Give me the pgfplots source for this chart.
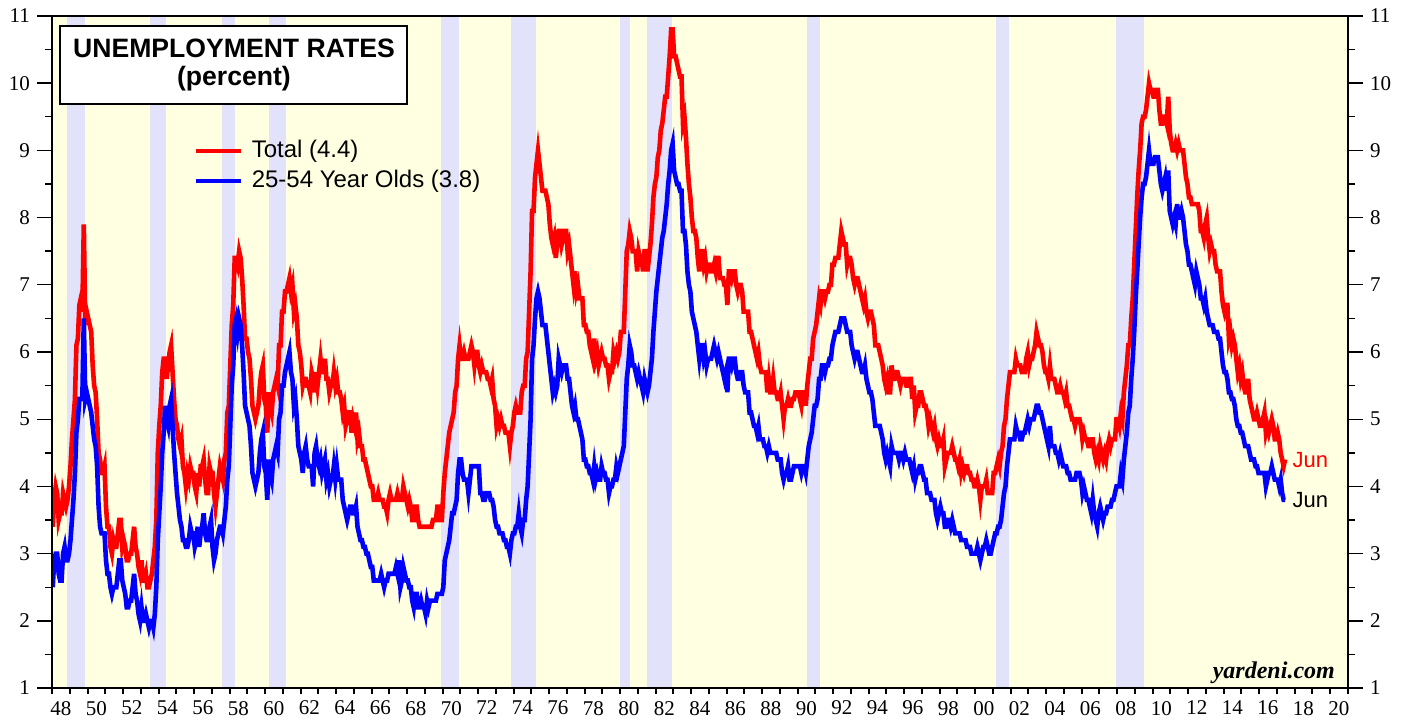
\documentclass[border=0pt]{standalone}
\usepackage{fontspec}
\setmainfont{Liberation Serif}
\newfontfamily\arial{Liberation Sans}
\usepackage{pgfplots}
\usepackage{pgfplotstable}
\pgfplotsset{compat=1.18}
\definecolor{bgyel}{RGB}{255,255,226}
\definecolor{recess}{RGB}{226,226,250}

\pgfplotstableread[row sep=\\]{
r b \\
3.4 2.5 \\ 3.8 2.9 \\ 4.0 3.0 \\ 3.9 3.0 \\ 3.5 2.7 \\ 3.6 2.6 \\ 3.6 2.6 \\ 3.9 3.0 \\ 3.8 3.1 \\ 3.7 2.9 \\ 3.8 2.9 \\ 4.0 3.0 \\
4.3 3.2 \\ 4.7 3.5 \\ 5.0 3.8 \\ 5.3 4.2 \\ 6.1 4.8 \\ 6.2 5.0 \\ 6.7 5.3 \\ 6.8 5.3 \\ 6.6 5.3 \\ 7.9 6.5 \\ 6.4 5.3 \\ 6.6 5.4 \\
6.5 5.3 \\ 6.4 5.2 \\ 6.3 5.1 \\ 5.8 4.9 \\ 5.5 4.7 \\ 5.4 4.6 \\ 5.0 4.3 \\ 4.5 3.7 \\ 4.4 3.4 \\ 4.2 3.3 \\ 4.2 3.3 \\ 4.3 3.3 \\
3.7 2.9 \\ 3.4 2.7 \\ 3.4 2.7 \\ 3.1 2.5 \\ 3.0 2.4 \\ 3.2 2.5 \\ 3.1 2.5 \\ 3.1 2.5 \\ 3.3 2.7 \\ 3.5 2.9 \\ 3.5 2.9 \\ 3.1 2.6 \\
3.2 2.5 \\ 3.1 2.4 \\ 2.9 2.2 \\ 2.9 2.2 \\ 3.0 2.3 \\ 3.0 2.3 \\ 3.2 2.5 \\ 3.4 2.7 \\ 3.1 2.4 \\ 3.0 2.3 \\ 2.8 2.1 \\ 2.7 2.0 \\
2.9 2.2 \\ 2.6 2.0 \\ 2.6 2.0 \\ 2.7 2.1 \\ 2.5 2.0 \\ 2.5 1.9 \\ 2.6 2.0 \\ 2.7 2.0 \\ 2.9 1.9 \\ 3.1 2.1 \\ 3.5 2.5 \\ 4.5 3.2 \\
4.9 3.6 \\ 5.2 4.0 \\ 5.7 4.5 \\ 5.9 4.8 \\ 5.9 5.2 \\ 5.6 5.0 \\ 5.8 4.9 \\ 6.0 5.2 \\ 6.1 5.3 \\ 5.7 4.9 \\ 5.3 4.5 \\ 5.0 4.2 \\
4.9 3.9 \\ 4.7 3.7 \\ 4.6 3.5 \\ 4.7 3.4 \\ 4.3 3.2 \\ 4.2 3.2 \\ 4.0 3.1 \\ 4.2 3.1 \\ 4.1 3.2 \\ 4.3 3.4 \\ 4.2 3.3 \\ 4.2 3.3 \\
4.0 3.1 \\ 3.9 3.2 \\ 4.2 3.4 \\ 4.0 3.1 \\ 4.3 3.3 \\ 4.3 3.4 \\ 4.4 3.6 \\ 4.1 3.3 \\ 3.9 3.2 \\ 3.9 3.2 \\ 4.3 3.4 \\ 4.2 3.5 \\
4.2 3.1 \\ 3.9 2.9 \\ 3.7 3.0 \\ 3.9 3.2 \\ 4.1 3.3 \\ 4.3 3.4 \\ 4.2 3.4 \\ 4.1 3.3 \\ 4.4 3.5 \\ 4.5 3.7 \\ 5.1 4.1 \\ 5.2 4.3 \\
5.8 4.9 \\ 6.4 5.5 \\ 6.7 5.8 \\ 7.4 6.4 \\ 7.4 6.5 \\ 7.3 6.3 \\ 7.5 6.5 \\ 7.4 6.4 \\ 7.1 6.1 \\ 6.7 5.7 \\ 6.2 5.2 \\ 6.2 5.1 \\
6.0 5.0 \\ 5.9 4.9 \\ 5.6 4.6 \\ 5.2 4.2 \\ 5.1 4.1 \\ 5.0 4.0 \\ 5.1 4.1 \\ 5.2 4.2 \\ 5.5 4.5 \\ 5.7 4.7 \\ 5.8 4.8 \\ 5.3 4.3 \\
5.2 4.2 \\ 4.8 3.8 \\ 5.4 4.4 \\ 5.2 4.2 \\ 5.1 4.1 \\ 5.4 4.4 \\ 5.5 4.5 \\ 5.6 4.6 \\ 5.5 4.5 \\ 6.1 5.0 \\ 6.1 5.1 \\ 6.6 5.5 \\
6.6 5.5 \\ 6.9 5.7 \\ 6.9 5.8 \\ 7.0 5.9 \\ 7.1 6.0 \\ 6.9 5.7 \\ 7.0 5.6 \\ 6.6 5.2 \\ 6.7 5.3 \\ 6.5 5.0 \\ 6.1 4.6 \\ 6.0 4.5 \\
5.8 4.4 \\ 5.5 4.2 \\ 5.6 4.5 \\ 5.6 4.6 \\ 5.5 4.4 \\ 5.5 4.3 \\ 5.4 4.3 \\ 5.7 4.3 \\ 5.6 4.0 \\ 5.4 4.5 \\ 5.7 4.6 \\ 5.5 4.4 \\
5.7 4.3 \\ 5.9 4.4 \\ 5.7 4.2 \\ 5.7 4.3 \\ 5.9 4.4 \\ 5.6 4.1 \\ 5.6 4.2 \\ 5.4 4.0 \\ 5.5 4.1 \\ 5.5 4.1 \\ 5.7 4.3 \\ 5.5 4.1 \\
5.6 4.3 \\ 5.4 4.1 \\ 5.4 4.1 \\ 5.3 4.1 \\ 5.1 3.8 \\ 5.2 3.7 \\ 4.9 3.6 \\ 5.0 3.5 \\ 5.1 3.6 \\ 5.1 3.7 \\ 4.8 3.7 \\ 5.0 3.6 \\
4.9 3.6 \\ 5.1 3.7 \\ 4.7 3.4 \\ 4.8 3.3 \\ 4.6 3.2 \\ 4.6 3.2 \\ 4.4 3.1 \\ 4.4 3.1 \\ 4.3 3.0 \\ 4.2 3.0 \\ 4.1 2.9 \\ 4.0 2.8 \\
4.0 2.8 \\ 3.8 2.6 \\ 3.8 2.6 \\ 3.8 2.6 \\ 3.9 2.6 \\ 3.8 2.6 \\ 3.8 2.7 \\ 3.8 2.6 \\ 3.7 2.5 \\ 3.7 2.6 \\ 3.6 2.6 \\ 3.8 2.7 \\
3.9 2.7 \\ 3.8 2.7 \\ 3.8 2.7 \\ 3.8 2.7 \\ 3.8 2.8 \\ 3.9 2.7 \\ 3.8 2.9 \\ 3.8 2.5 \\ 3.8 2.6 \\ 4.0 2.8 \\ 3.9 2.7 \\ 3.8 2.6 \\
3.7 2.6 \\ 3.8 2.5 \\ 3.7 2.5 \\ 3.5 2.3 \\ 3.5 2.2 \\ 3.7 2.4 \\ 3.7 2.4 \\ 3.5 2.2 \\ 3.4 2.2 \\ 3.4 2.3 \\ 3.4 2.2 \\ 3.4 2.2 \\
3.4 2.1 \\ 3.4 2.3 \\ 3.4 2.2 \\ 3.4 2.3 \\ 3.4 2.3 \\ 3.5 2.3 \\ 3.5 2.3 \\ 3.5 2.3 \\ 3.7 2.4 \\ 3.7 2.4 \\ 3.5 2.4 \\ 3.5 2.4 \\
3.9 2.5 \\ 4.2 2.9 \\ 4.4 3.0 \\ 4.6 3.1 \\ 4.8 3.2 \\ 4.9 3.4 \\ 5.0 3.6 \\ 5.1 3.6 \\ 5.4 3.7 \\ 5.5 3.8 \\ 5.9 4.2 \\ 6.1 4.4 \\
5.9 4.4 \\ 5.9 4.2 \\ 6.0 4.1 \\ 5.9 4.1 \\ 5.9 4.1 \\ 5.9 3.9 \\ 6.0 4.1 \\ 6.1 4.3 \\ 6.0 4.3 \\ 5.8 4.3 \\ 6.0 4.3 \\ 6.0 4.3 \\
5.8 4.3 \\ 5.7 3.9 \\ 5.8 3.9 \\ 5.7 3.8 \\ 5.7 3.8 \\ 5.7 3.9 \\ 5.6 3.9 \\ 5.6 3.9 \\ 5.5 3.8 \\ 5.6 3.8 \\ 5.3 3.7 \\ 5.2 3.5 \\
4.9 3.4 \\ 5.0 3.4 \\ 4.9 3.3 \\ 5.0 3.3 \\ 4.9 3.3 \\ 4.9 3.2 \\ 4.8 3.2 \\ 4.8 3.1 \\ 4.8 3.1 \\ 4.6 3.0 \\ 4.8 3.2 \\ 4.9 3.3 \\
5.1 3.3 \\ 5.2 3.4 \\ 5.1 3.4 \\ 5.1 3.6 \\ 5.1 3.4 \\ 5.4 3.3 \\ 5.5 3.5 \\ 5.5 3.5 \\ 5.9 3.8 \\ 6.0 4.0 \\ 6.6 4.5 \\ 7.2 5.0 \\
8.1 5.9 \\ 8.1 6.1 \\ 8.6 6.5 \\ 8.8 6.8 \\ 9.0 6.9 \\ 8.8 6.8 \\ 8.6 6.6 \\ 8.4 6.4 \\ 8.4 6.4 \\ 8.4 6.4 \\ 8.3 6.2 \\ 8.2 6.0 \\
7.9 5.8 \\ 7.7 5.6 \\ 7.6 5.4 \\ 7.7 5.5 \\ 7.4 5.4 \\ 7.6 5.5 \\ 7.8 5.9 \\ 7.8 5.8 \\ 7.6 5.7 \\ 7.7 5.8 \\ 7.8 5.8 \\ 7.8 5.8 \\
7.5 5.6 \\ 7.6 5.6 \\ 7.4 5.4 \\ 7.2 5.2 \\ 7.0 5.1 \\ 7.2 5.2 \\ 6.9 5.0 \\ 7.0 5.0 \\ 6.8 4.9 \\ 6.8 4.8 \\ 6.8 4.7 \\ 6.4 4.4 \\
6.4 4.4 \\ 6.3 4.3 \\ 6.3 4.3 \\ 6.1 4.2 \\ 6.0 4.2 \\ 5.9 4.1 \\ 6.2 4.3 \\ 5.9 4.1 \\ 6.0 4.2 \\ 5.8 4.1 \\ 5.9 4.1 \\ 6.0 4.3 \\
5.9 4.2 \\ 5.9 4.2 \\ 5.8 4.1 \\ 5.8 4.1 \\ 5.6 3.9 \\ 5.7 4.0 \\ 5.7 4.0 \\ 6.0 4.1 \\ 5.9 4.1 \\ 6.0 4.3 \\ 5.9 4.2 \\ 6.0 4.3 \\
6.3 4.4 \\ 6.3 4.5 \\ 6.3 4.6 \\ 6.9 5.1 \\ 7.5 5.6 \\ 7.6 5.8 \\ 7.8 6.1 \\ 7.7 6.0 \\ 7.5 5.8 \\ 7.5 5.8 \\ 7.5 5.7 \\ 7.2 5.6 \\
7.5 5.7 \\ 7.4 5.6 \\ 7.4 5.5 \\ 7.2 5.4 \\ 7.5 5.6 \\ 7.5 5.5 \\ 7.2 5.4 \\ 7.4 5.5 \\ 7.6 5.7 \\ 7.9 5.9 \\ 8.3 6.3 \\ 8.5 6.6 \\
8.6 6.9 \\ 8.9 7.1 \\ 9.0 7.3 \\ 9.3 7.5 \\ 9.4 7.7 \\ 9.6 7.8 \\ 9.8 8.0 \\ 9.8 8.2 \\ 10.1 8.5 \\ 10.4 8.7 \\ 10.8 9.0 \\ 10.8 9.1 \\
10.4 8.7 \\ 10.4 8.6 \\ 10.3 8.5 \\ 10.2 8.5 \\ 10.1 8.4 \\ 10.1 8.4 \\ 9.4 7.8 \\ 9.5 7.8 \\ 9.2 7.6 \\ 8.8 7.2 \\ 8.5 7.0 \\ 8.3 6.9 \\
8.0 6.6 \\ 7.8 6.5 \\ 7.8 6.4 \\ 7.7 6.3 \\ 7.4 6.1 \\ 7.2 5.9 \\ 7.5 6.1 \\ 7.5 6.1 \\ 7.3 5.9 \\ 7.4 6.0 \\ 7.2 5.8 \\ 7.3 5.9 \\
7.3 5.9 \\ 7.2 5.9 \\ 7.2 6.0 \\ 7.3 6.1 \\ 7.2 6.0 \\ 7.4 5.9 \\ 7.4 6.0 \\ 7.1 5.9 \\ 7.1 5.8 \\ 7.1 5.7 \\ 7.0 5.6 \\ 7.0 5.7 \\
6.7 5.4 \\ 7.2 5.9 \\ 7.2 5.9 \\ 7.1 5.8 \\ 7.2 5.9 \\ 7.2 5.9 \\ 7.0 5.7 \\ 6.9 5.6 \\ 7.0 5.6 \\ 7.0 5.7 \\ 6.9 5.7 \\ 6.6 5.5 \\
6.6 5.4 \\ 6.6 5.4 \\ 6.6 5.4 \\ 6.3 5.1 \\ 6.3 5.1 \\ 6.2 5.0 \\ 6.1 4.9 \\ 6.0 4.9 \\ 5.9 4.8 \\ 6.0 4.9 \\ 5.8 4.7 \\ 5.7 4.7 \\
5.7 4.7 \\ 5.7 4.6 \\ 5.7 4.6 \\ 5.4 4.5 \\ 5.6 4.6 \\ 5.4 4.5 \\ 5.4 4.5 \\ 5.6 4.5 \\ 5.4 4.5 \\ 5.4 4.5 \\ 5.3 4.4 \\ 5.3 4.4 \\
5.4 4.4 \\ 5.2 4.2 \\ 5.0 4.1 \\ 5.2 4.2 \\ 5.2 4.2 \\ 5.3 4.3 \\ 5.2 4.1 \\ 5.2 4.1 \\ 5.3 4.2 \\ 5.3 4.3 \\ 5.4 4.3 \\ 5.4 4.3 \\
5.4 4.3 \\ 5.3 4.3 \\ 5.2 4.2 \\ 5.4 4.3 \\ 5.4 4.3 \\ 5.2 4.2 \\ 5.5 4.4 \\ 5.7 4.6 \\ 5.9 4.7 \\ 5.9 4.8 \\ 6.2 5.0 \\ 6.3 5.2 \\
6.4 5.2 \\ 6.6 5.3 \\ 6.8 5.6 \\ 6.7 5.6 \\ 6.9 5.8 \\ 6.9 5.8 \\ 6.8 5.7 \\ 6.9 5.8 \\ 6.9 5.8 \\ 7.0 5.9 \\ 7.0 5.9 \\ 7.3 6.1 \\
7.3 6.2 \\ 7.4 6.3 \\ 7.4 6.3 \\ 7.4 6.3 \\ 7.6 6.4 \\ 7.8 6.5 \\ 7.7 6.5 \\ 7.6 6.5 \\ 7.6 6.4 \\ 7.3 6.3 \\ 7.4 6.3 \\ 7.4 6.3 \\
7.3 6.1 \\ 7.1 6.0 \\ 7.0 5.9 \\ 7.1 6.0 \\ 7.1 6.0 \\ 7.0 5.9 \\ 6.9 5.8 \\ 6.8 5.7 \\ 6.7 5.7 \\ 6.8 5.8 \\ 6.6 5.6 \\ 6.5 5.5 \\
6.6 5.4 \\ 6.6 5.4 \\ 6.5 5.3 \\ 6.4 5.1 \\ 6.1 4.9 \\ 6.1 4.9 \\ 6.1 4.9 \\ 6.0 4.9 \\ 5.9 4.8 \\ 5.8 4.7 \\ 5.6 4.5 \\ 5.5 4.4 \\
5.6 4.5 \\ 5.4 4.4 \\ 5.4 4.3 \\ 5.8 4.6 \\ 5.6 4.5 \\ 5.6 4.5 \\ 5.7 4.5 \\ 5.7 4.5 \\ 5.6 4.4 \\ 5.5 4.5 \\ 5.6 4.5 \\ 5.6 4.4 \\
5.6 4.5 \\ 5.5 4.4 \\ 5.5 4.4 \\ 5.6 4.4 \\ 5.6 4.3 \\ 5.3 4.2 \\ 5.5 4.3 \\ 5.1 4.1 \\ 5.2 4.2 \\ 5.2 4.2 \\ 5.4 4.3 \\ 5.4 4.3 \\
5.3 4.2 \\ 5.2 4.1 \\ 5.2 4.1 \\ 5.1 3.9 \\ 4.9 3.9 \\ 5.0 3.9 \\ 4.9 3.8 \\ 4.8 3.8 \\ 4.9 3.8 \\ 4.7 3.6 \\ 4.6 3.5 \\ 4.7 3.6 \\
4.6 3.7 \\ 4.6 3.6 \\ 4.7 3.6 \\ 4.3 3.4 \\ 4.4 3.4 \\ 4.5 3.5 \\ 4.5 3.5 \\ 4.5 3.4 \\ 4.6 3.5 \\ 4.5 3.4 \\ 4.4 3.3 \\ 4.4 3.3 \\
4.3 3.3 \\ 4.4 3.3 \\ 4.2 3.2 \\ 4.3 3.2 \\ 4.2 3.2 \\ 4.3 3.2 \\ 4.3 3.1 \\ 4.2 3.1 \\ 4.2 3.1 \\ 4.1 3.0 \\ 4.1 3.0 \\ 4.0 3.0 \\
4.0 3.0 \\ 4.1 3.1 \\ 4.0 3.0 \\ 3.8 2.9 \\ 4.0 3.0 \\ 4.0 3.1 \\ 4.0 3.1 \\ 4.1 3.2 \\ 3.9 3.1 \\ 3.9 3.0 \\ 3.9 3.0 \\ 3.9 3.1 \\
4.2 3.2 \\ 4.2 3.3 \\ 4.3 3.3 \\ 4.4 3.4 \\ 4.3 3.4 \\ 4.5 3.5 \\ 4.6 3.7 \\ 4.9 3.9 \\ 5.0 4.0 \\ 5.3 4.3 \\ 5.5 4.5 \\ 5.7 4.7 \\
5.7 4.7 \\ 5.7 4.7 \\ 5.7 4.7 \\ 5.9 4.9 \\ 5.8 4.8 \\ 5.8 4.8 \\ 5.8 4.7 \\ 5.7 4.7 \\ 5.7 4.8 \\ 5.7 4.8 \\ 5.9 4.9 \\ 6.0 5.0 \\
5.8 4.9 \\ 5.9 5.0 \\ 5.9 5.0 \\ 6.0 5.0 \\ 6.1 5.1 \\ 6.3 5.2 \\ 6.2 5.2 \\ 6.1 5.1 \\ 6.1 5.1 \\ 6.0 5.0 \\ 5.8 4.9 \\ 5.7 4.8 \\
5.7 4.7 \\ 5.6 4.6 \\ 5.8 4.9 \\ 5.6 4.6 \\ 5.6 4.6 \\ 5.6 4.6 \\ 5.5 4.5 \\ 5.4 4.5 \\ 5.4 4.4 \\ 5.5 4.5 \\ 5.4 4.4 \\ 5.4 4.3 \\
5.3 4.3 \\ 5.4 4.3 \\ 5.2 4.2 \\ 5.2 4.2 \\ 5.1 4.1 \\ 5.0 4.1 \\ 5.0 4.1 \\ 4.9 4.1 \\ 5.0 4.2 \\ 5.0 4.2 \\ 5.0 4.2 \\ 4.9 4.1 \\
4.7 3.9 \\ 4.8 4.0 \\ 4.7 3.9 \\ 4.7 3.8 \\ 4.6 3.8 \\ 4.6 3.7 \\ 4.7 3.6 \\ 4.7 3.8 \\ 4.5 3.6 \\ 4.4 3.5 \\ 4.5 3.4 \\ 4.4 3.6 \\
4.6 3.7 \\ 4.5 3.6 \\ 4.4 3.5 \\ 4.5 3.6 \\ 4.4 3.6 \\ 4.6 3.7 \\ 4.7 3.7 \\ 4.6 3.7 \\ 4.7 3.8 \\ 4.7 3.8 \\ 4.7 3.9 \\ 5.0 4.0 \\
5.0 4.0 \\ 4.9 4.0 \\ 5.1 4.2 \\ 5.0 4.1 \\ 5.4 4.4 \\ 5.6 4.6 \\ 5.8 4.8 \\ 6.1 5.1 \\ 6.1 5.2 \\ 6.5 5.6 \\ 6.8 5.9 \\ 7.3 6.3 \\
7.8 6.8 \\ 8.3 7.2 \\ 8.7 7.6 \\ 9.0 8.0 \\ 9.4 8.3 \\ 9.5 8.5 \\ 9.5 8.5 \\ 9.6 8.6 \\ 9.8 8.8 \\ 10.0 9.0 \\ 9.9 8.8 \\ 9.9 8.8 \\
9.8 8.8 \\ 9.8 8.9 \\ 9.9 8.9 \\ 9.9 8.9 \\ 9.6 8.7 \\ 9.4 8.5 \\ 9.4 8.4 \\ 9.5 8.5 \\ 9.5 8.6 \\ 9.4 8.4 \\ 9.8 8.7 \\ 9.3 8.1 \\
9.1 8.0 \\ 9.0 7.9 \\ 9.0 8.0 \\ 9.1 7.9 \\ 9.0 8.2 \\ 9.1 8.0 \\ 9.0 8.0 \\ 9.0 8.1 \\ 9.0 8.0 \\ 8.8 7.8 \\ 8.6 7.6 \\ 8.5 7.5 \\
8.3 7.3 \\ 8.3 7.3 \\ 8.2 7.2 \\ 8.2 7.1 \\ 8.2 7.0 \\ 8.2 7.2 \\ 8.2 7.1 \\ 8.1 7.0 \\ 7.8 6.8 \\ 7.8 6.8 \\ 7.7 6.7 \\ 7.9 6.8 \\
8.0 6.6 \\ 7.7 6.5 \\ 7.5 6.4 \\ 7.6 6.4 \\ 7.5 6.4 \\ 7.5 6.3 \\ 7.3 6.3 \\ 7.2 6.3 \\ 7.2 6.2 \\ 7.2 6.2 \\ 6.9 6.0 \\ 6.7 5.8 \\
6.6 5.7 \\ 6.7 5.7 \\ 6.7 5.6 \\ 6.2 5.4 \\ 6.3 5.4 \\ 6.1 5.3 \\ 6.2 5.3 \\ 6.1 5.2 \\ 5.9 5.0 \\ 5.7 4.9 \\ 5.8 4.9 \\ 5.6 4.8 \\
5.7 4.8 \\ 5.5 4.7 \\ 5.4 4.6 \\ 5.4 4.6 \\ 5.6 4.6 \\ 5.3 4.5 \\ 5.2 4.4 \\ 5.1 4.4 \\ 5.0 4.4 \\ 5.0 4.3 \\ 5.1 4.3 \\ 5.0 4.2 \\
4.9 4.2 \\ 4.9 4.2 \\ 5.0 4.2 \\ 5.1 4.2 \\ 4.8 4.0 \\ 4.9 4.1 \\ 4.8 4.2 \\ 4.9 4.2 \\ 5.0 4.3 \\ 4.9 4.2 \\ 4.7 4.1 \\ 4.7 4.1 \\
4.8 4.1 \\ 4.7 4.0 \\ 4.5 4.1 \\ 4.4 3.9 \\ 4.3 3.8 \\ 4.4 3.8 \\
}\unemp

\begin{document}
\begin{tikzpicture}
\pgfplotsset{
  base/.style={
    scale only axis, width=648pt, height=336pt,
    xmin=1948, xmax=2021, ymin=1, ymax=11,
    at={(0,0)}, anchor=south west,
  },
  yax/.style={
    base, hide x axis,
    ytick={1,...,11}, minor ytick={1.5,2.5,...,10.5},
    tick align=outside,
    major tick length=7.5pt, minor tick length=3.5pt,
    ytick style={line width=0.7pt, black},
    axis line style={-, line width=1.4pt, black},
    yticklabel style={font=\fontsize{10.5}{12}\selectfont},
    /pgf/number format/assume math mode=true,
  },
}
\begin{axis}[base,
  axis background/.style={fill=bgyel},
  axis line style={line width=1.4pt, black},
  axis on top,
  tick align=outside,
  xtick={1948,...,2021},
  x tick label as interval,
  xticklabels={48,,50,,52,,54,,56,,58,,60,,62,,64,,66,,68,,70,,72,,74,,76,,78,,80,,82,,84,,86,,88,,90,,92,,94,,96,,98,,00,,02,,04,,06,,08,,10,,12,,14,,16,,18,,20},
  xtick pos=left,
  major tick length=3pt,
  xtick style={line width=1pt, black},
  xticklabel style={font=\fontsize{10.5}{12}\selectfont},
  ytick=\empty,
  legend image code/.code={\draw[#1] (0pt,0pt) -- (22.5pt,0pt);},
  legend style={at={(0.1097,0.8155)}, anchor=north west, draw=none, fill=none,
    inner sep=0pt, outer sep=0pt, column sep=4pt, row sep=4pt,
    font=\arial\fontsize{12}{14}\selectfont,
    nodes={inner sep=0pt, text height=8.6pt, text depth=2.4pt}},
  legend cell align=left,
]
\addplot[fill=recess, draw=none, forget plot] coordinates {(1948.833,1) (1948.833,11) (1949.833,11) (1949.833,1)} --cycle;
\addplot[fill=recess, draw=none, forget plot] coordinates {(1953.5,1) (1953.5,11) (1954.417,11) (1954.417,1)} --cycle;
\addplot[fill=recess, draw=none, forget plot] coordinates {(1957.583,1) (1957.583,11) (1958.333,11) (1958.333,1)} --cycle;
\addplot[fill=recess, draw=none, forget plot] coordinates {(1960.25,1) (1960.25,11) (1961.167,11) (1961.167,1)} --cycle;
\addplot[fill=recess, draw=none, forget plot] coordinates {(1969.917,1) (1969.917,11) (1970.917,11) (1970.917,1)} --cycle;
\addplot[fill=recess, draw=none, forget plot] coordinates {(1973.833,1) (1973.833,11) (1975.25,11) (1975.25,1)} --cycle;
\addplot[fill=recess, draw=none, forget plot] coordinates {(1980.0,1) (1980.0,11) (1980.583,11) (1980.583,1)} --cycle;
\addplot[fill=recess, draw=none, forget plot] coordinates {(1981.5,1) (1981.5,11) (1982.917,11) (1982.917,1)} --cycle;
\addplot[fill=recess, draw=none, forget plot] coordinates {(1990.5,1) (1990.5,11) (1991.25,11) (1991.25,1)} --cycle;
\addplot[fill=recess, draw=none, forget plot] coordinates {(2001.167,1) (2001.167,11) (2001.917,11) (2001.917,1)} --cycle;
\addplot[fill=recess, draw=none, forget plot] coordinates {(2007.917,1) (2007.917,11) (2009.5,11) (2009.5,1)} --cycle;

\addplot[red, line width=2.3pt] table[x expr=1948+(\coordindex+0.5)/12, y=r] {\unemp};
\addlegendentry{Total (4.4)}
\addplot[blue, line width=2.3pt] table[x expr=1948+(\coordindex+0.5)/12, y=b] {\unemp};
\addlegendentry{25-54 Year Olds (3.8)}

\node[draw=black, line width=1pt, fill=white, anchor=north west, minimum width=173.5pt, minimum height=39pt, inner sep=0pt, align=center, font=\arial\bfseries\fontsize{13.3}{14}\selectfont] at (axis cs:1948.42,10.87) {UNEMPLOYMENT RATES\\(percent)};
\node[anchor=west, text=red, inner sep=0pt, font=\arial\fontsize{11}{13}\selectfont] at (axis cs:2017.86,4.39) {Jun};
\node[anchor=west, text=black, inner sep=0pt, font=\arial\fontsize{11}{13}\selectfont] at (axis cs:2017.86,3.80) {Jun};
\node[anchor=east, inner sep=0pt, font=\bfseries\itshape\fontsize{12}{14}\selectfont] at (axis cs:2020.28,1.22) {yardeni.com};
\end{axis}

\begin{axis}[yax, axis y line*=left]
\addplot[draw=none] coordinates {(1950,5)};
\end{axis}
\begin{axis}[yax, axis y line*=right]
\addplot[draw=none] coordinates {(1950,5)};
\end{axis}

\pgfresetboundingbox
\path[use as bounding box] (-26pt,-15.5pt) rectangle (677.5pt,344pt);
\end{tikzpicture}
\end{document}
